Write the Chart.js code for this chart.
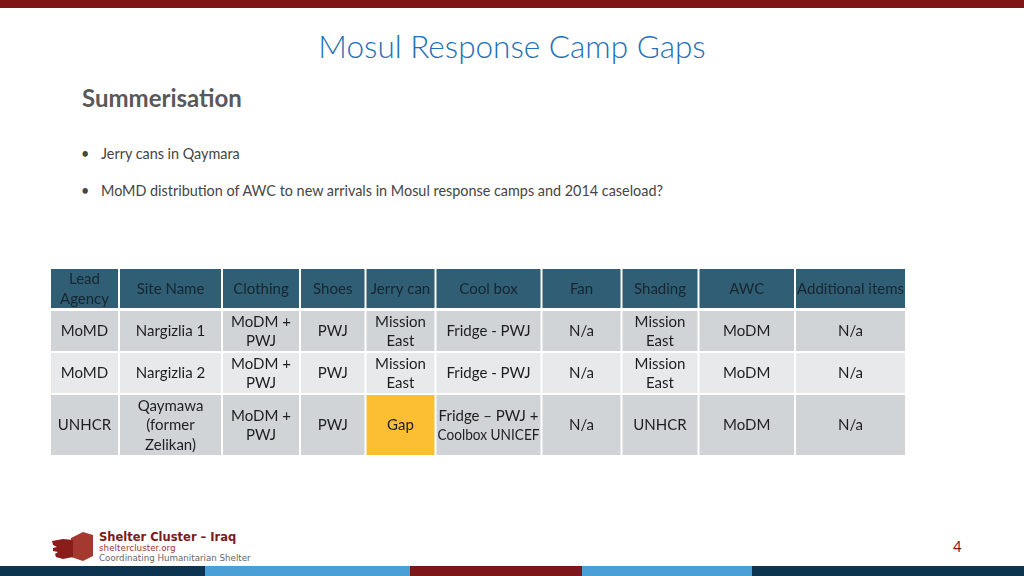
<!DOCTYPE html>
<html>
<head>
<meta charset="utf-8">
<script src="https://cdn.jsdelivr.net/npm/chart.js@4.4.1/dist/chart.umd.min.js"></script>
<style>
  html, body { margin: 0; padding: 0; background: #fff; }
  body { width: 1024px; height: 576px; position: relative; overflow: hidden; font-family: Lato, "Open Sans", sans-serif; }
  .topbar { position: absolute; left: 0; top: 0; width: 1024px; height: 8px; background: #7e1517; }
  .title { position: absolute; left: 0; width: 1024px; top: 27px; text-align: center; font-size: 31.5px; font-weight: 300; color: #1f70b8; }
  .sub { position: absolute; left: 82px; top: 83px; font-size: 24px; font-weight: bold; color: #595959; }
  .bullet { position: absolute; left: 101px; font-size: 14.4px; color: #454545; }
  .bullet::before { content: "\2022"; position: absolute; left: -20px; }
  #wrap { position: absolute; left: 51px; top: 269px; width: 854px; height: 186px; }
  .logo { position: absolute; left: 51px; top: 530px; }
  .org { position: absolute; left: 99px; font-family: "DejaVu Sans", sans-serif; }
  .page { position: absolute; left: 953px; top: 537px; font-size: 15px; color: #7e1517; }
  .stripe { position: absolute; top: 566px; height: 10px; }
</style>
</head>
<body>
<div class="topbar"></div>
<div class="title">Mosul Response Camp Gaps</div>
<div class="sub">Summerisation</div>
<div class="bullet" style="top:145px">Jerry cans in Qaymara</div>
<div class="bullet" style="top:182px">MoMD distribution of AWC to new arrivals in Mosul response camps and 2014 caseload?</div>

<div id="wrap"><canvas id="campTable" width="854" height="186"></canvas></div>

<svg class="logo" width="44" height="32" viewBox="0 0 44 32">
  <polygon points="20,8 32,2 42,5 42,26 32,31 20,27" fill="#a3392f"/>
  <polygon points="1,11 12,9 22,10 22,27 12,29 5,27 4,24 7,22 2,21 2,18 6,17 2,15" fill="#8a1d1a"/>
</svg>
<div class="org" style="top:530px;font-size:11.5px;font-weight:bold;color:#7a1a1a">Shelter Cluster – Iraq</div>
<div class="org" style="top:543px;font-size:8.8px;color:#a33a3a">sheltercluster.org</div>
<div class="org" style="top:553px;font-size:8.7px;color:#666">Coordinating Humanitarian Shelter</div>
<div class="page">4</div>

<div class="stripe" style="left:0;width:205px;background:#0c3350"></div>
<div class="stripe" style="left:205px;width:205px;background:#4a9fd4"></div>
<div class="stripe" style="left:410px;width:172px;background:#7c1719"></div>
<div class="stripe" style="left:582px;width:170px;background:#4a9fd4"></div>
<div class="stripe" style="left:752px;width:272px;background:#0c3350"></div>

<script>
// 表头和每一行的数据
const headers = ['Lead\nAgency', 'Site Name', 'Clothing', 'Shoes', 'Jerry can', 'Cool box', 'Fan', 'Shading', 'AWC', 'Additional items'];
const rowNargizlia1 = ['MoMD', 'Nargizlia 1', 'MoDM +\nPWJ', 'PWJ', 'Mission\nEast', 'Fridge - PWJ', 'N/a', 'Mission\nEast', 'MoDM', 'N/a'];
const rowNargizlia2 = ['MoMD', 'Nargizlia 2', 'MoDM +\nPWJ', 'PWJ', 'Mission\nEast', 'Fridge - PWJ', 'N/a', 'Mission\nEast', 'MoDM', 'N/a'];
const rowQaymawa = ['UNHCR', 'Qaymawa\n(former\nZelikan)', 'MoDM +\nPWJ', 'PWJ', 'Gap', 'Fridge – PWJ +\nCoolbox UNICEF', 'N/a', 'UNHCR', 'MoDM', 'N/a'];
const bodyRows = [rowNargizlia1, rowNargizlia2, rowQaymawa];
const gapText = 'Gap';

// 列和行的边界（表格坐标）
const colEdges = [0, 68, 171, 249, 314.5, 384.5, 490.5, 570.5, 647.5, 744, 854];
const rowEdges = [0, 41, 83, 125, 186];

// 颜色
const headerFill = '#2f5e75';
const headerText = '#18262f';
const rowFills = ['#d1d4d7', '#e8e9eb', '#d1d4d7'];
const gapFill = '#fcbf33';

function drawCell(ctx, xs, ys, c, r, fill, text, color) {
    const x0 = xs.getPixelForValue(colEdges[c]) + (c > 0 ? 1 : 0);
    const x1 = xs.getPixelForValue(colEdges[c + 1]) - (c < colEdges.length - 2 ? 1 : 0);
    const y0 = ys.getPixelForValue(rowEdges[r]) + (r > 0 ? 1 : 0);
    const y1 = ys.getPixelForValue(rowEdges[r + 1]) - (r === 0 ? 2 : (r < rowEdges.length - 2 ? 1 : 0));
    ctx.fillStyle = fill;
    ctx.fillRect(x0, y0, x1 - x0, y1 - y0);

    const lines = text.split('\n');
    const lh = 19.5;
    const cx = (x0 + x1) / 2;
    const cy = (y0 + y1) / 2 + 0.5;
    ctx.fillStyle = color;
    ctx.textAlign = 'center';
    ctx.textBaseline = 'middle';
    lines.forEach((line, i) => {
        ctx.fillText(line, cx, cy + (i - (lines.length - 1) / 2) * lh, x1 - x0 - 2);
    });
}

// 用插件画表格单元格
const tablePlugin = {
    id: 'tablePlugin',
    afterDraw(chart) {
        const ctx = chart.ctx;
        const xs = chart.scales.x;
        const ys = chart.scales.y;
        ctx.save();
        ctx.font = '15px Lato';
        headers.forEach((h, c) => drawCell(ctx, xs, ys, c, 0, headerFill, h, headerText));
        bodyRows.forEach((row, r) => {
            row.forEach((val, c) => {
                const fill = val === gapText ? gapFill : rowFills[r];
                drawCell(ctx, xs, ys, c, r + 1, fill, val, '#1e1e1e');
            });
        });
        ctx.restore();
    }
};

function createTable() {
    const ctx = document.getElementById('campTable').getContext('2d');
    new Chart(ctx, {
        type: 'scatter',
        data: { datasets: [] },
        options: {
            responsive: false,
            animation: false,
            layout: { padding: 0 },
            plugins: { legend: { display: false }, tooltip: { enabled: false } },
            scales: {
                x: { type: 'linear', min: 0, max: 854, display: false },
                y: { type: 'linear', min: 0, max: 186, reverse: true, display: false }
            }
        },
        plugins: [tablePlugin]
    });
}

window.addEventListener('DOMContentLoaded', function() {
    if (document.fonts && document.fonts.load) {
        document.fonts.load('15px Lato').then(createTable, createTable);
    } else {
        createTable();
    }
});
</script>
</body>
</html>
